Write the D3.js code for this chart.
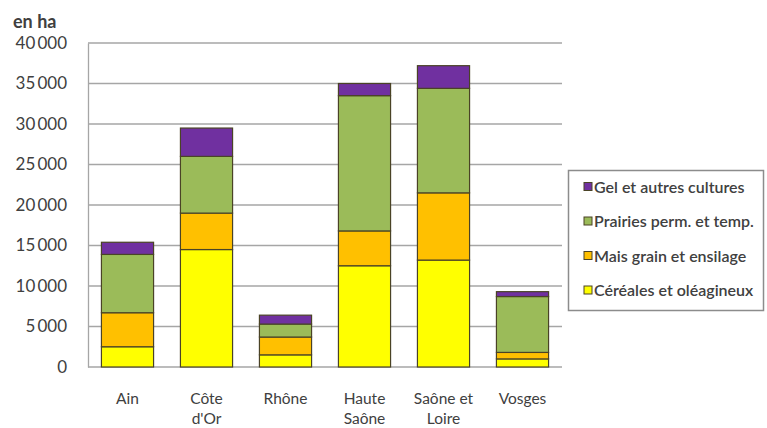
<!DOCTYPE html>
<html><head><meta charset="utf-8">
<script src="https://cdn.jsdelivr.net/npm/d3@7"></script>
<style>
html,body{margin:0;padding:0;background:#fff;}
svg{display:block;}
text{font-family:Lato,"Open Sans",sans-serif;fill:#404040;}
</style></head>
<body>
<svg id="c" width="767" height="428"></svg>
<script>
const categories = ["Ain", "Côte\nd'Or", "Rhône", "Haute\nSaône", "Saône et\nLoire", "Vosges"];
const seriesNames = ["Céréales et oléagineux", "Mais grain et ensilage", "Prairies perm. et temp.", "Gel et autres cultures"];
const cereales = [2500, 14500, 1500, 12500, 13200, 1000];
const mais = [4200, 4500, 2200, 4300, 8300, 800];
const prairies = [7200, 7000, 1600, 16700, 12900, 6900];
const gel = [1500, 3500, 1100, 1500, 2800, 600];
const yTicks = [0, 5000, 10000, 15000, 20000, 25000, 30000, 35000, 40000];
const colors = ["#FFFF00", "#FFC000", "#9BBB59", "#7030A0"];

const svg = d3.select("#c");
const x = d3.scaleBand().domain(categories).range([88, 562]).paddingInner(0.34).paddingOuter(0.17);
const y = d3.scaleLinear().domain([0, 40000]).range([367, 43]);
const loc = d3.formatLocale({decimal: ",", thousands: "\u2009", grouping: [3], currency: ["", " €"]});
const fmt = loc.format(",");

// gridlines
svg.append("g").selectAll("line").data(yTicks.filter(d => d > 0)).join("line")
  .attr("x1", 88).attr("x2", 562).attr("y1", d => y(d)).attr("y2", d => y(d))
  .attr("stroke", "#a6a6a6").attr("stroke-width", 1.3);

// y axis
const ya = svg.append("g").attr("transform", "translate(88,0)")
  .call(d3.axisLeft(y).tickValues(yTicks).tickFormat(fmt).tickSize(0).tickPadding(21));
ya.select(".domain").attr("stroke", "#a6a6a6").attr("stroke-width", 1.3);
ya.selectAll("text").attr("font-size", 17).attr("font-family", "Lato, sans-serif").attr("fill", "#404040");

// x axis baseline
svg.append("line").attr("x1", 88).attr("x2", 562).attr("y1", y(0)).attr("y2", y(0))
  .attr("stroke", "#a6a6a6").attr("stroke-width", 1.3);

// stacked data
const rows = categories.map((c, i) => ({cat: c, s0: cereales[i], s1: mais[i], s2: prairies[i], s3: gel[i]}));
const stack = d3.stack().keys(["s0", "s1", "s2", "s3"])(rows);
svg.append("g").selectAll("g").data(stack).join("g")
  .attr("fill", (d, i) => colors[i])
  .selectAll("rect").data(d => d).join("rect")
  .attr("x", d => x(d.data.cat)).attr("width", x.bandwidth())
  .attr("y", d => y(d[1])).attr("height", d => y(d[0]) - y(d[1]))
  .attr("stroke", "#4a4326").attr("stroke-width", 1.2);

// x labels
const xl = svg.append("g").selectAll("text").data(categories).join("text")
  .attr("text-anchor", "middle").attr("font-size", 15.5).attr("fill", "#404040");
xl.each(function(d) {
  const t = d3.select(this);
  d.split("\n").forEach((ln, k) => {
    t.append("tspan").attr("x", x(d) + x.bandwidth() / 2).attr("y", 404 + k * 20).text(ln);
  });
});

// unit label
svg.append("text").attr("x", 13).attr("y", 28).attr("font-size", 18).attr("font-weight", 700)
  .attr("fill", "#1a1a1a").text("en ha");

// legend
const lg = svg.append("g");
lg.append("rect").attr("x", 568.5).attr("y", 170.5).attr("width", 195).attr("height", 140)
  .attr("fill", "#fff").attr("stroke", "#8c8c8c").attr("stroke-width", 1.5);
const legOrder = [3, 2, 1, 0];
const li = lg.selectAll("g.it").data(legOrder).join("g").attr("class", "it")
  .attr("transform", (d, k) => `translate(584,${187 + k * 34.5})`);
li.append("rect").attr("x", 0).attr("y", -4.5).attr("width", 8).attr("height", 8)
  .attr("fill", d => colors[d]).attr("stroke", "#4a4326").attr("stroke-width", 1);
li.append("text").attr("x", 10).attr("y", 5.5).attr("font-size", 16).attr("font-weight", 600)
  .attr("fill", "#262626").text(d => seriesNames[d]);
</script>
</body></html>
